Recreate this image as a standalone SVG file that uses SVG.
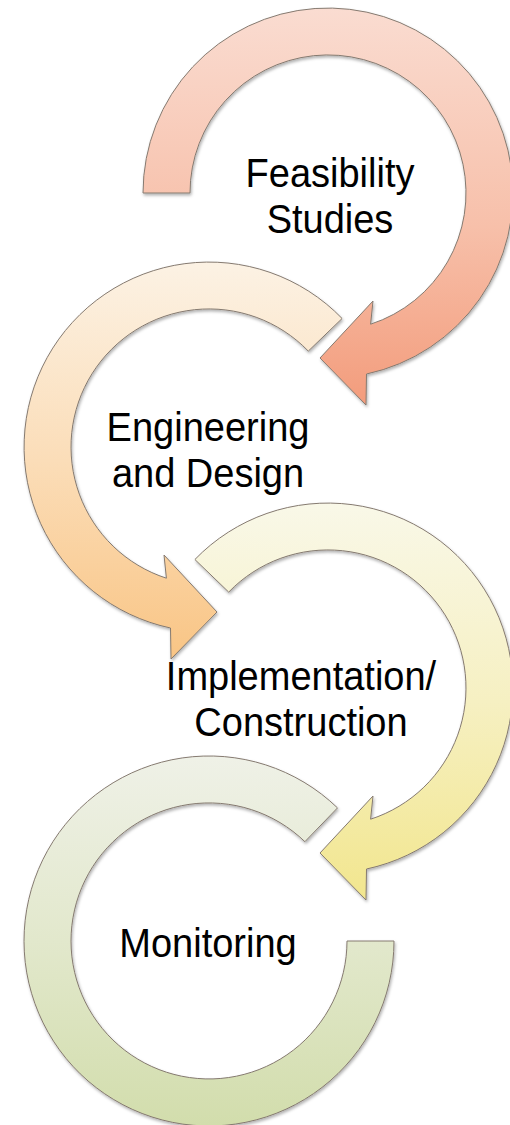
<svg xmlns="http://www.w3.org/2000/svg" width="510" height="1125" viewBox="0 0 510 1125">
  <defs>
    <linearGradient id="g1" x1="0" y1="0" x2="0" y2="1">
      <stop offset="0" stop-color="#FADCD1"/>
      <stop offset="0.55" stop-color="#F7C0AA"/>
      <stop offset="1" stop-color="#F39C7C"/>
    </linearGradient>
    <linearGradient id="g2" x1="0" y1="0" x2="0" y2="1">
      <stop offset="0" stop-color="#FCF2E4"/>
      <stop offset="0.5" stop-color="#FBDDB8"/>
      <stop offset="1" stop-color="#F9C585"/>
    </linearGradient>
    <linearGradient id="g3" x1="0" y1="0" x2="0" y2="1">
      <stop offset="0" stop-color="#F9F8E8"/>
      <stop offset="0.5" stop-color="#F6F0C2"/>
      <stop offset="1" stop-color="#F2E68E"/>
    </linearGradient>
    <linearGradient id="g4" x1="0" y1="0" x2="0" y2="1">
      <stop offset="0" stop-color="#EFF1E7"/>
      <stop offset="0.5" stop-color="#E2E8CC"/>
      <stop offset="1" stop-color="#D2DDAC"/>
    </linearGradient>
    <filter id="sh" x="-10%" y="-10%" width="120%" height="120%">
      <feDropShadow dx="1" dy="2" stdDeviation="1.5" flood-color="#000" flood-opacity="0.3"/>
    </filter>
  </defs>
  <style>
    .arrow { stroke: #857a70; stroke-width: 1; stroke-linejoin: miter; filter: url(#sh); }
    .label { font-family: "Liberation Sans", Arial, sans-serif; font-size: 38px; fill: #000; text-anchor: middle; }
  </style>
  <rect width="510" height="1125" fill="#ffffff"/>

  <g id="connectors">
    <path id="arrow1" class="arrow" fill="url(#g1)" transform="translate(328,193)"
      d="M -185,0 A 185 185 0 1 1 38.5,181 L 38,212 L -8,165 L 45,108 L 42.6,131.2 A 138 138 0 1 0 -138,0 Z"/>
    <path id="arrow2" class="arrow" fill="url(#g2)" transform="translate(209,447)"
      d="M 133.1,-128.5 A 185 185 0 1 0 -38.5,181 L -38,212 L 8,165 L -45,108 L -42.6,131.2 A 138 138 0 1 1 99.3,-95.9 Z"/>
    <path id="arrow3" class="arrow" fill="url(#g3)" transform="translate(328,688)"
      d="M -133.1,-128.5 A 185 185 0 1 1 38.5,181 L 38,212 L -8,165 L 45,108 L 42.6,131.2 A 138 138 0 1 0 -99.3,-95.9 Z"/>
    <path id="arrow4" class="arrow" fill="url(#g4)" transform="translate(209,941)"
      d="M 128.5,-133.1 A 185 185 0 1 0 185,0 L 138,0 A 138 138 0 1 1 95.9,-99.3 Z"/>
  </g>

  <g id="node-feasibility">
    <text class="label" transform="translate(330,187) scale(1,1.05)"><tspan x="0" y="0">Feasibility</tspan><tspan x="0" y="44">Studies</tspan></text>
  </g>
  <g id="node-engineering">
    <text class="label" transform="translate(208,441) scale(1,1.05)"><tspan x="0" y="0">Engineering</tspan><tspan x="0" y="44">and Design</tspan></text>
  </g>
  <g id="node-implementation">
    <text class="label" transform="translate(301,690) scale(1,1.05)"><tspan x="0" y="0">Implementation/</tspan><tspan x="0" y="44">Construction</tspan></text>
  </g>
  <g id="node-monitoring">
    <text class="label" transform="translate(208,957) scale(1,1.05)">Monitoring</text>
  </g>
</svg>
